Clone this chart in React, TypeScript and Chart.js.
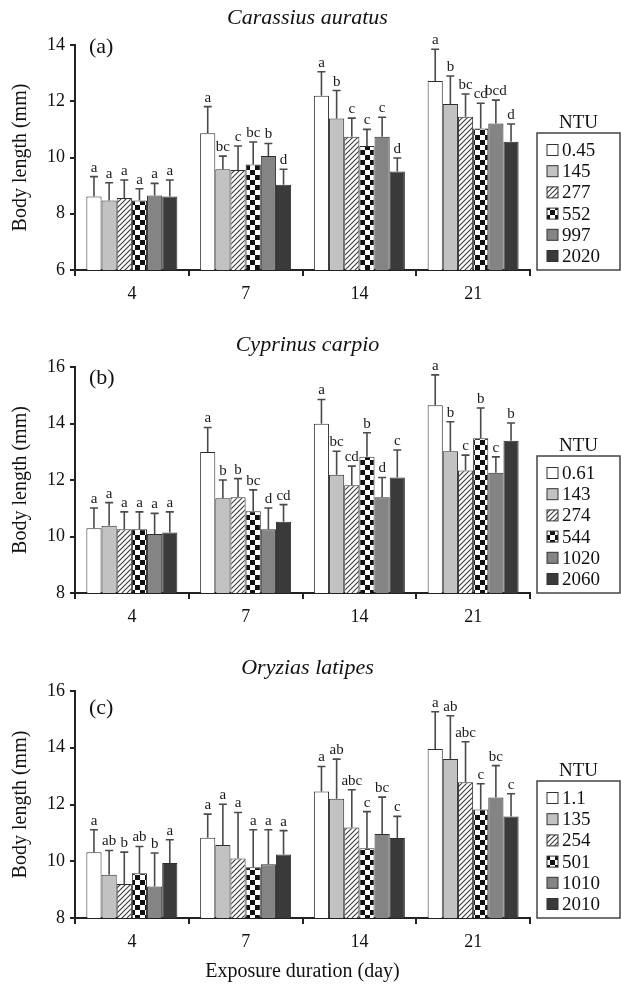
import React, { useEffect, useRef } from 'react';
import { Chart, registerables } from 'chart.js';
Chart.register(...registerables);

const FONT = '"Liberation Serif", "Times New Roman", Times, serif';

const DAYS = ['4', '7', '14', '21'];
const Y_TITLE = 'Body length (mm)';
const X_TITLE = 'Exposure duration (day)';
const LEGEND_TITLE = 'NTU';

// ---- Panel (a) Carassius auratus ----
const A_SPECIES = 'Carassius auratus';
const A_TAG = '(a)';
const A_TICKS = [6, 8, 10, 12, 14];
const A_NTU = ['0.45', '145', '277', '552', '997', '2020'];
const A_MEAN = [
  [8.61, 10.86, 12.2, 12.72],
  [8.47, 9.58, 11.39, 11.9],
  [8.56, 9.56, 10.74, 11.45],
  [8.47, 9.75, 10.41, 11.03],
  [8.65, 10.05, 10.74, 11.21],
  [8.61, 9.03, 9.5, 10.56],
];
const A_SD = [
  [0.71, 0.95, 0.85, 1.13],
  [0.63, 0.47, 0.99, 1.0],
  [0.64, 0.85, 0.66, 0.81],
  [0.42, 0.8, 0.59, 0.9],
  [0.43, 0.45, 0.69, 0.83],
  [0.59, 0.55, 0.48, 0.63],
];
const A_LETTERS = [
  ['a', 'a', 'a', 'a'],
  ['a', 'bc', 'b', 'b'],
  ['a', 'c', 'c', 'bc'],
  ['a', 'bc', 'c', 'cd'],
  ['a', 'b', 'c', 'bcd'],
  ['a', 'd', 'd', 'd'],
];

// ---- Panel (b) Cyprinus carpio ----
const B_SPECIES = 'Cyprinus carpio';
const B_TAG = '(b)';
const B_TICKS = [8, 10, 12, 14, 16];
const B_NTU = ['0.61', '143', '274', '544', '1020', '2060'];
const B_MEAN = [
  [10.29, 12.99, 13.99, 14.65],
  [10.38, 11.35, 12.19, 13.02],
  [10.26, 11.39, 11.81, 12.34],
  [10.26, 10.89, 12.82, 13.48],
  [10.09, 10.26, 11.39, 12.26],
  [10.14, 10.52, 12.09, 13.39],
];
const B_SD = [
  [0.72, 0.87, 0.86, 1.07],
  [0.82, 0.65, 0.83, 1.04],
  [0.61, 0.66, 0.68, 0.54],
  [0.61, 0.76, 0.85, 1.07],
  [0.73, 0.75, 0.7, 0.56],
  [0.73, 0.61, 0.97, 0.63],
];
const B_LETTERS = [
  ['a', 'a', 'a', 'a'],
  ['a', 'b', 'bc', 'b'],
  ['a', 'b', 'cd', 'c'],
  ['a', 'bc', 'b', 'b'],
  ['a', 'd', 'd', 'c'],
  ['a', 'cd', 'c', 'b'],
];

// ---- Panel (c) Oryzias latipes ----
const C_SPECIES = 'Oryzias latipes';
const C_TAG = '(c)';
const C_TICKS = [8, 10, 12, 14, 16];
const C_NTU = ['1.1', '135', '254', '501', '1010', '2010'];
const C_MEAN = [
  [10.32, 10.83, 12.46, 13.96],
  [9.52, 10.57, 12.2, 13.6],
  [9.2, 10.1, 11.19, 12.78],
  [9.58, 9.79, 10.46, 11.82],
  [9.11, 9.89, 10.96, 12.25],
  [9.94, 10.24, 10.82, 11.58],
];
const C_SD = [
  [0.79, 0.83, 0.88, 1.31],
  [0.86, 1.44, 1.4, 1.53],
  [1.12, 1.62, 1.33, 1.43],
  [0.94, 1.32, 1.29, 0.91],
  [1.18, 1.22, 1.3, 1.12],
  [0.82, 0.84, 0.76, 0.8],
];
const C_LETTERS = [
  ['a', 'a', 'a', 'a'],
  ['ab', 'a', 'ab', 'ab'],
  ['b', 'a', 'abc', 'abc'],
  ['ab', 'a', 'c', 'c'],
  ['b', 'a', 'bc', 'bc'],
  ['a', 'a', 'c', 'c'],
];

type PanelCfg = {
  species: string; tag: string; ticks: number[]; ntu: string[];
  mean: number[][]; sd: number[][]; letters: string[][];
  top: number; height: number; padTop: number; xH: number;
  titleY: number; tagDy: number; showXTitle: boolean;
};

const PANELS: PanelCfg[] = [
  { species: A_SPECIES, tag: A_TAG, ticks: A_TICKS, ntu: A_NTU, mean: A_MEAN, sd: A_SD, letters: A_LETTERS,
    top: 0, height: 320, padTop: 45, xH: 50, titleY: 18, tagDy: 2, showXTitle: false },
  { species: B_SPECIES, tag: B_TAG, ticks: B_TICKS, ntu: B_NTU, mean: B_MEAN, sd: B_SD, letters: B_LETTERS,
    top: 320, height: 320, padTop: 47, xH: 47, titleY: 25, tagDy: 11, showXTitle: false },
  { species: C_SPECIES, tag: C_TAG, ticks: C_TICKS, ntu: C_NTU, mean: C_MEAN, sd: C_SD, letters: C_LETTERS,
    top: 640, height: 346, padTop: 51, xH: 68, titleY: 28, tagDy: 17, showXTitle: true },
];

function makeHatch(): CanvasPattern | string {
  const c = document.createElement('canvas');
  c.width = 5; c.height = 5;
  const g = c.getContext('2d');
  if (!g) return '#ddd';
  g.fillStyle = '#ffffff'; g.fillRect(0, 0, 5, 5);
  g.strokeStyle = '#3a3a3a'; g.lineWidth = 1.1;
  g.beginPath();
  g.moveTo(0, 5); g.lineTo(5, 0);
  g.moveTo(-1, 1); g.lineTo(1, -1);
  g.moveTo(4, 6); g.lineTo(6, 4);
  g.stroke();
  return g.createPattern(c, 'repeat') || '#ddd';
}

function makeChecker(): CanvasPattern | string {
  const c = document.createElement('canvas');
  c.width = 10; c.height = 10;
  const g = c.getContext('2d');
  if (!g) return '#888';
  g.fillStyle = '#ffffff'; g.fillRect(0, 0, 10, 10);
  g.fillStyle = '#111111';
  g.fillRect(0, 0, 5, 5); g.fillRect(5, 5, 5, 5);
  return g.createPattern(c, 'repeat') || '#888';
}

function Panel({ cfg }: { cfg: PanelCfg }) {
  const ref = useRef<HTMLCanvasElement>(null);
  useEffect(() => {
    if (!ref.current) return;
    const fills: (string | CanvasPattern)[] = ['#ffffff', '#c2c2c2', makeHatch(), makeChecker(), '#848484', '#3a3a3a'];
    const overlay = {
      id: 'overlay',
      afterDatasetsDraw(chart: any) {
        const { ctx, chartArea } = chart;
        const ys = chart.scales.y;
        ctx.save();
        // error bars and letters
        chart.data.datasets.forEach((ds: any, i: number) => {
          const meta = chart.getDatasetMeta(i);
          meta.data.forEach((bar: any, j: number) => {
            const v = ds.data[j] as number;
            const top = ys.getPixelForValue(v + cfg.sd[i][j]);
            ctx.strokeStyle = '#4a4a4a';
            ctx.lineWidth = 1.6;
            ctx.beginPath();
            ctx.moveTo(bar.x, bar.y);
            ctx.lineTo(bar.x, top);
            ctx.moveTo(bar.x - 4, top);
            ctx.lineTo(bar.x + 4, top);
            ctx.stroke();
            ctx.fillStyle = '#1a1a1a';
            ctx.font = `15px ${FONT}`;
            ctx.textAlign = 'center';
            ctx.textBaseline = 'alphabetic';
            ctx.fillText(cfg.letters[i][j], bar.x, top - 5);
          });
        });
        // species title
        ctx.fillStyle = '#111';
        ctx.font = `italic 22px ${FONT}`;
        ctx.textAlign = 'center';
        ctx.textBaseline = 'middle';
        ctx.fillText(cfg.species, (chartArea.left + chartArea.right) / 2 + 5, cfg.titleY);
        // panel tag
        ctx.font = `22px ${FONT}`;
        ctx.textAlign = 'left';
        ctx.fillText(cfg.tag, chartArea.left + 14, chartArea.top + cfg.tagDy);
        // legend
        const bx = chartArea.right + 7;
        const bw = 83;
        const bh = 137;
        const by = chartArea.bottom - bh;
        ctx.strokeStyle = '#444';
        ctx.lineWidth = 1.5;
        ctx.strokeRect(bx, by, bw, bh);
        ctx.font = `19px ${FONT}`;
        ctx.textAlign = 'center';
        ctx.fillStyle = '#111';
        ctx.fillText(LEGEND_TITLE, bx + bw / 2, by - 10);
        ctx.textAlign = 'left';
        chart.data.datasets.forEach((ds: any, i: number) => {
          const cy = by + 17 + i * 21.2;
          ctx.fillStyle = ds.backgroundColor;
          ctx.fillRect(bx + 10, cy - 5.5, 11, 11);
          ctx.strokeStyle = '#333';
          ctx.lineWidth = 1;
          ctx.strokeRect(bx + 10, cy - 5.5, 11, 11);
          ctx.fillStyle = '#111';
          ctx.fillText(ds.label, bx + 25, cy + 1);
        });
        ctx.restore();
      },
    };
    const chart = new Chart(ref.current, {
      type: 'bar',
      data: {
        labels: DAYS,
        datasets: cfg.mean.map((m, i) => ({
          label: cfg.ntu[i],
          data: m,
          backgroundColor: fills[i] as any,
          borderColor: '#2e2e2e',
          borderWidth: 1,
          categoryPercentage: 0.8,
          barPercentage: 1.0,
        })),
      },
      options: {
        responsive: false,
        animation: false,
        events: [],
        layout: { padding: { top: cfg.padTop, right: 91, left: 0, bottom: 0 } },
        plugins: {
          legend: { display: false },
          tooltip: { enabled: false },
          title: { display: false },
        },
        scales: {
          x: {
            grid: { offset: true, drawOnChartArea: false, drawTicks: true, tickLength: 6, color: '#222', lineWidth: 2 },
            border: { color: '#222', width: 2 },
            ticks: { color: '#111', font: { family: FONT, size: 18 }, padding: 7 },
            title: {
              display: cfg.showXTitle,
              text: X_TITLE,
              color: '#111',
              font: { family: FONT, size: 20 },
              padding: { top: 0, bottom: 2 },
            },
            afterFit: (s: any) => { s.height = cfg.xH; },
          },
          y: {
            min: cfg.ticks[0],
            max: cfg.ticks[cfg.ticks.length - 1],
            grid: { drawOnChartArea: false, drawTicks: true, tickLength: 5, color: '#222', lineWidth: 2 },
            border: { color: '#222', width: 2 },
            ticks: { stepSize: 2, color: '#111', font: { family: FONT, size: 18 }, padding: 5 },
            title: {
              display: true,
              text: Y_TITLE,
              color: '#111',
              font: { family: FONT, size: 20 },
              padding: { top: 9, bottom: 0 },
            },
            afterFit: (s: any) => { s.width = 75; },
          },
        },
      },
      plugins: [overlay],
    } as any);
    return () => chart.destroy();
  }, []);
  return (
    <canvas
      ref={ref}
      width={621}
      height={cfg.height}
      style={{ position: 'absolute', left: 0, top: cfg.top, width: 621, height: cfg.height }}
    />
  );
}

export default function App() {
  return (
    <div style={{ position: 'absolute', left: 0, top: 0, width: 621, height: 986, background: '#fff' }}>
      {PANELS.map((p) => (
        <Panel key={p.tag} cfg={p} />
      ))}
    </div>
  );
}
